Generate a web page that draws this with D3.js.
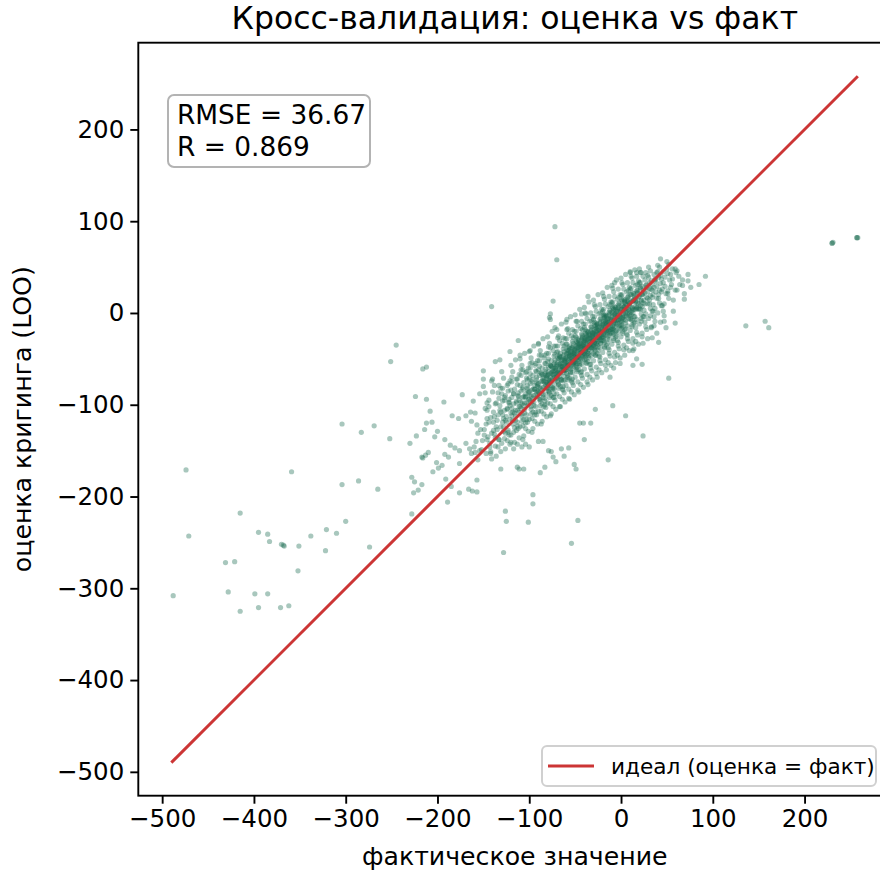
<!DOCTYPE html>
<html><head><meta charset="utf-8">
<script src="https://cdn.jsdelivr.net/npm/d3@7"></script>
<style>body{margin:0;background:#fff}svg{display:block;font-family:"DejaVu Sans",sans-serif}</style>
</head><body><svg id="c" width="880" height="878"></svg>
<script>
const title = "Кросс-валидация: оценка vs факт";
const xLabel = "фактическое значение";
const yLabel = "оценка кригинга (LOO)";
const tickValues = [-500,-400,-300,-200,-100,0,100,200];
const statsLines = ["RMSE = 36.67", "R = 0.869"];
const legendLabel = "идеал (оценка = факт)";
const idealRange = [-490, 258];
const axisDomain = [-526, 294.5];

// [факт, оценка] — outlying points
const outliers = [
[-474,-171],[-359,-173],[-304,-187],[-286,-183],[-265,-192],[-415,-218],[-471,-243],[-395,-239],[-385,-241],[-383,-249],
[-370,-252],[-367,-254],[-368,-253],[-351,-254],[-338,-243],[-321,-236],[-310,-240],[-300,-227],[-322,-259],[-274,-255],
[-431,-272],[-421,-271],[-352,-281],[-488,-308],[-428,-304],[-399,-306],[-385,-306],[-415,-325],[-395,-321],[-371,-321],[-362,-319],
[-224,-91],[-212,-94],[-208,-107],[-212,-120],[-214,-127],[-223,-134],[-230,-142],[-203,-135],[-200,-129],[-252,-137],
[-283,-130],[-269,-123],[-304,-121],[-210,-152],[-216,-158],[-217,-157],[-205,-173],[-199,-169],[-228,-179],[-225,-184],
[-217,-187],[-221,-193],[-226,-196],[-228,-219],[-245,-35],[-251,-53],[-216,-61],[-212,-59],[-193,-97],[-173,-89],
[-184,-112],[-177,-115],[-169,-112],[-159,-109],[-206,-119],[-192,-138],[-186,-144],[-181,-147],[-176,-150],[-192,-154],
[-188,-157],[-169,-142],[-165,-148],[-163,-153],[-154,-150],[-213,-155],[-201,-163],[-195,-166],[-176,-164],[-156,-160],
[-191,-181],[-185,-189],[-189,-206],[-176,-196],[-166,-192],[-162,-194],[-157,-195],[-157,-182],[-126,-216],[-125,-227],
[-128,-261],[-131,-170],[-113,-168],[-111,-170],[-106,-170],[-88,-174],[-83,-168],[-96,-198],[-96,-208],[-101,-228],
[-54,-251],[-47,-226],[-51,-165],[-49,-170],[-14,-160],[24,-134],[5,-112],[-9,-101],[-28,-105],[-40,-138],[-33,-120],
[-45,-120],[-41,-120],[-57,-147],[-65,-148],[-62,-156],[-71,-162],[-74,-157],[-79,-150],[-76,-151],[-85,-140],[-90,-140],
[-100,-146],[-108,-146],[-113,-143],[-104,-143],[-120,-141],[-142,-151],[-146,-138],
[-72,94],[-70,58],[-141,7],[-74,13],[-77,-1],[-77,-7],[-78,-5],[-72,-16],[-36,18],[-43,-1],[-59,-7],[-112,-30],[-90,-33],
[-121,-42],[-99,-41],[-110,-46],[-137,-53],[-132,-51],[-150,-63],
[43,59],[50,56],[59,48],[67,36],[73,35],[92,40],[85,31],[69,21],[61,25],[10,44],[17,44],[-7,33],[24,40],[41,-32],[47,-9],
[36,-14],[52,-71],[13,-41],[17,-50],[23,-56],[13,-57],[-1,-55],[-8,-60],[-12,-70],
[230,76],[230,76],[231,77],[257,82],[257,82],[258,82],[136,-14],[157,-9],[161,-16]
];

// [факт, оценка] — dense core along the diagonal
const cluster = [
[-163,-118],[-158,-140],[-161,-96],[-156,-131],[-159,-152],[-164,-108],[-157,-122],[-160,-146],
[-153,-127],[-148,-104],[-151,-139],[-146,-115],[-154,-88],[-149,-133],[-147,-121],[-152,-149],[-150,-72],[-146,-98],
[-144,-119],[-139,-108],[-141,-131],[-137,-99],[-143,-142],[-136,-124],[-140,-86],[-138,-113],[-142,-153],[-135,-117],[-144,-102],[-139,-128],[-137,-136],[-141,-74],
[-134,-111],[-129,-96],[-131,-124],[-127,-106],[-133,-138],[-126,-117],[-130,-88],[-128,-129],[-132,-101],[-125,-113],[-134,-146],[-129,-119],[-127,-92],[-131,-108],[-126,-131],[-133,-79],[-128,-115],[-130,-142],
[-124,-104],[-119,-92],[-121,-116],[-117,-99],[-123,-128],[-116,-109],[-120,-84],[-118,-121],[-122,-97],[-115,-106],[-124,-139],[-119,-112],[-117,-88],[-121,-101],[-116,-125],[-123,-77],[-118,-108],[-120,-133],[-122,-94],[-115,-117],[-119,-70],[-117,-148],
[-114,-96],[-109,-85],[-111,-108],[-107,-92],[-113,-119],[-106,-101],[-110,-79],[-108,-113],[-112,-90],[-105,-98],[-114,-128],[-109,-104],[-107,-83],[-111,-95],[-106,-116],[-113,-72],[-108,-99],[-110,-124],[-112,-87],[-105,-109],[-109,-62],[-107,-138],[-111,-102],[-106,-91],[-113,-106],[-108,-118],
[-104,-88],[-99,-77],[-101,-100],[-97,-84],[-103,-111],[-96,-93],[-100,-71],[-98,-105],[-102,-82],[-95,-90],[-104,-120],[-99,-96],[-97,-75],[-101,-87],[-96,-108],[-103,-64],[-98,-91],[-100,-116],[-102,-79],[-95,-101],[-99,-55],[-97,-130],[-101,-94],[-96,-83],[-103,-98],[-98,-110],[-104,-92],[-100,-86],[-97,-97],[-102,-73],
[-94,-79],[-89,-68],[-91,-91],[-87,-75],[-93,-102],[-86,-84],[-90,-62],[-88,-96],[-92,-73],[-85,-81],[-94,-111],[-89,-87],[-87,-66],[-91,-78],[-86,-99],[-93,-55],[-88,-82],[-90,-107],[-92,-70],[-85,-92],[-89,-46],[-87,-121],[-91,-85],[-86,-74],[-93,-89],[-88,-101],[-94,-83],[-90,-77],[-87,-88],[-92,-64],[-85,-71],[-89,-94],[-91,-80],[-86,-67],
[-84,-70],[-79,-59],[-81,-82],[-77,-66],[-83,-93],[-76,-75],[-80,-53],[-78,-87],[-82,-64],[-75,-72],[-84,-102],[-79,-78],[-77,-57],[-81,-69],[-76,-90],[-83,-46],[-78,-73],[-80,-98],[-82,-61],[-75,-83],[-79,-37],[-77,-112],[-81,-76],[-76,-65],[-83,-80],[-78,-92],[-84,-74],[-80,-68],[-77,-79],[-82,-55],[-75,-62],[-79,-85],[-81,-71],[-76,-58],[-83,-66],[-78,-76],[-80,-81],[-82,-88],[-77,-70],[-79,-64],
[-74,-60],[-69,-49],[-71,-72],[-67,-56],[-73,-83],[-66,-65],[-70,-43],[-68,-77],[-72,-54],[-65,-62],[-74,-92],[-69,-68],[-67,-47],[-71,-59],[-66,-80],[-73,-36],[-68,-63],[-70,-88],[-72,-51],[-65,-73],[-69,-27],[-67,-102],[-71,-66],[-66,-55],[-73,-70],[-68,-82],[-74,-64],[-70,-58],[-67,-69],[-72,-45],[-65,-52],[-69,-75],[-71,-61],[-66,-48],[-73,-56],[-68,-66],[-70,-71],[-72,-78],[-67,-60],[-69,-54],[-74,-67],[-66,-58],[-71,-63],[-68,-50],
[-64,-51],[-59,-40],[-61,-63],[-57,-47],[-63,-74],[-56,-56],[-60,-34],[-58,-68],[-62,-45],[-55,-53],[-64,-83],[-59,-59],[-57,-38],[-61,-50],[-56,-71],[-63,-27],[-58,-54],[-60,-79],[-62,-42],[-55,-64],[-59,-18],[-57,-93],[-61,-57],[-56,-46],[-63,-61],[-58,-73],[-64,-55],[-60,-49],[-57,-60],[-62,-36],[-55,-43],[-59,-66],[-61,-52],[-56,-39],[-63,-47],[-58,-57],[-60,-62],[-62,-69],[-57,-51],[-59,-45],[-64,-58],[-56,-49],[-61,-54],[-58,-41],[-63,-65],[-55,-58],[-60,-55],[-57,-44],[-62,-60],[-59,-50],
[-54,-42],[-49,-31],[-51,-54],[-47,-38],[-53,-65],[-46,-47],[-50,-25],[-48,-59],[-52,-36],[-45,-44],[-54,-74],[-49,-50],[-47,-29],[-51,-41],[-46,-62],[-53,-18],[-48,-45],[-50,-70],[-52,-33],[-45,-55],[-49,-9],[-47,-84],[-51,-48],[-46,-37],[-53,-52],[-48,-64],[-54,-46],[-50,-40],[-47,-51],[-52,-27],[-45,-34],[-49,-57],[-51,-43],[-46,-30],[-53,-38],[-48,-48],[-50,-53],[-52,-60],[-47,-42],[-49,-36],[-54,-49],[-46,-40],[-51,-45],[-48,-32],[-53,-56],[-45,-49],[-50,-46],[-47,-35],[-52,-51],[-49,-41],[-46,-53],[-51,-39],[-48,-55],[-53,-44],
[-44,-33],[-39,-22],[-41,-45],[-37,-29],[-43,-56],[-36,-38],[-40,-16],[-38,-50],[-42,-27],[-35,-35],[-44,-65],[-39,-41],[-37,-20],[-41,-32],[-36,-53],[-43,-9],[-38,-36],[-40,-61],[-42,-24],[-35,-46],[-39,0],[-37,-75],[-41,-39],[-36,-28],[-43,-43],[-38,-55],[-44,-37],[-40,-31],[-37,-42],[-42,-18],[-35,-25],[-39,-48],[-41,-34],[-36,-21],[-43,-29],[-38,-39],[-40,-44],[-42,-51],[-37,-33],[-39,-27],[-44,-40],[-36,-31],[-41,-36],[-38,-23],[-43,-47],[-35,-40],[-40,-37],[-37,-26],[-42,-42],[-39,-32],[-36,-44],[-41,-30],[-38,-46],[-43,-35],[-40,-28],[-37,-38],
[-34,-24],[-29,-13],[-31,-36],[-27,-20],[-33,-47],[-26,-29],[-30,-7],[-28,-41],[-32,-18],[-25,-26],[-34,-56],[-29,-32],[-27,-11],[-31,-23],[-26,-44],[-33,0],[-28,-27],[-30,-52],[-32,-15],[-25,-37],[-29,9],[-27,-66],[-31,-30],[-26,-19],[-33,-34],[-28,-46],[-34,-28],[-30,-22],[-27,-33],[-32,-9],[-25,-16],[-29,-39],[-31,-25],[-26,-12],[-33,-20],[-28,-30],[-30,-35],[-32,-42],[-27,-24],[-29,-18],[-34,-31],[-26,-22],[-31,-27],[-28,-14],[-33,-38],[-25,-31],[-30,-28],[-27,-17],[-32,-33],[-29,-23],[-26,-35],[-31,-21],[-28,-37],[-33,-26],
[-24,-15],[-19,-4],[-21,-27],[-17,-11],[-23,-38],[-16,-20],[-20,2],[-18,-32],[-22,-9],[-15,-17],[-24,-47],[-19,-23],[-17,-2],[-21,-14],[-16,-35],[-23,9],[-18,-18],[-20,-43],[-22,-6],[-15,-28],[-19,18],[-17,-57],[-21,-21],[-16,-10],[-23,-25],[-18,-37],[-24,-19],[-20,-13],[-17,-24],[-22,0],[-15,-7],[-19,-30],[-21,-16],[-16,-3],[-23,-11],[-18,-21],[-20,-26],[-22,-33],[-17,-15],[-19,-9],[-24,-22],[-16,-13],[-21,-18],[-18,-5],[-23,-29],[-15,-22],[-20,-19],[-17,-8],[-22,-24],[-19,-14],
[-14,-6],[-9,5],[-11,-18],[-7,-2],[-13,-29],[-6,-11],[-10,11],[-8,-23],[-12,0],[-5,-8],[-14,-38],[-9,-14],[-7,7],[-11,-5],[-6,-26],[-13,18],[-8,-9],[-10,-34],[-12,3],[-5,-19],[-9,27],[-7,-48],[-11,-12],[-6,-1],[-13,-16],[-8,-28],[-14,-10],[-10,-4],[-7,-15],[-12,9],[-5,2],[-9,-21],[-11,-7],[-6,6],[-13,-2],[-8,-12],[-10,-17],[-12,-24],[-7,-6],[-9,0],[-14,-13],[-6,-4],[-11,-9],[-8,4],[-13,-20],[-5,-13],
[-4,2],[1,13],[-1,-10],[3,6],[-3,-21],[4,-3],[0,19],[2,-15],[-2,8],[5,0],[-4,-30],[1,-6],[3,15],[-1,3],[4,-18],[-3,26],[2,-1],[0,-26],[-2,11],[5,-11],[1,33],[3,-40],[-1,-4],[4,7],[-3,-8],[2,-20],[-4,-2],[0,4],[3,-7],[-2,17],[5,10],[1,-13],[-1,1],[4,14],[-3,6],[2,-4],[0,-9],[-2,-16],[3,2],[1,8],[-4,-5],[4,4],
[6,9],[11,20],[9,-3],[13,13],[7,-14],[14,4],[10,26],[12,-8],[8,15],[15,7],[6,-23],[11,1],[13,22],[9,10],[14,-11],[7,33],[12,6],[10,-19],[8,18],[15,-4],[11,40],[13,-33],[9,3],[14,14],[7,-1],[12,-13],[6,5],[10,11],[13,0],[8,24],[15,17],[11,-6],[9,8],[14,21],[7,13],[12,3],
[16,16],[21,27],[19,4],[23,20],[17,-7],[24,11],[20,33],[22,-1],[18,22],[25,14],[16,-16],[21,8],[23,29],[19,17],[24,-4],[17,40],[22,13],[20,-12],[18,25],[25,3],[21,44],[23,-26],[19,10],[24,21],[17,6],[22,-6],[16,12],[20,18],[23,7],[18,31],
[26,22],[31,33],[29,10],[33,26],[27,-1],[34,17],[30,39],[32,5],[28,28],[35,20],[26,-10],[31,14],[33,35],[29,23],[34,2],[27,44],[32,19],[30,-6],[28,31],[35,9],[31,27],[33,-15],[29,16],[34,25],
[36,28],[41,39],[39,16],[43,32],[37,5],[44,23],[40,45],[42,11],[38,34],[45,26],[36,-4],[41,20],[43,41],[39,29],[44,8],[37,37],[42,25],[40,0],
[46,33],[51,43],[49,21],[53,36],[47,10],[54,28],[50,48],[52,16],[48,39],[55,31],[46,2],[51,24],
[56,37],[61,46],[59,25],[63,40],[57,14],[64,31],[60,44],
[67,30],[73,42],[69,15],[76,28]
];

// [факт, оценка] — wider halo of the cloud
const clusterWide = [
[-148,-87],[-143,-146],[-146,-106],[-141,-159],[-149,-127],[-144,-95],[-147,-153],[-142,-114],[-145,-135],[-150,-80],
[-138,-79],[-133,-138],[-136,-98],[-131,-151],[-139,-119],[-134,-87],[-137,-145],[-132,-106],[-135,-127],[-140,-72],[-133,-93],[-138,-132],[-131,-82],[-136,-156],
[-128,-71],[-123,-130],[-126,-90],[-121,-143],[-129,-111],[-124,-79],[-127,-137],[-122,-98],[-125,-119],[-130,-64],[-123,-85],[-128,-124],[-121,-74],[-126,-148],[-124,-105],[-129,-82],[-122,-133],[-127,-95],
[-118,-64],[-113,-123],[-116,-83],[-111,-136],[-119,-104],[-114,-72],[-117,-130],[-112,-91],[-115,-112],[-120,-57],[-113,-78],[-118,-117],[-111,-67],[-116,-141],[-114,-98],[-119,-75],[-112,-126],[-117,-88],[-115,-51],[-120,-109],
[-108,-57],[-103,-116],[-106,-76],[-101,-129],[-109,-97],[-104,-65],[-107,-123],[-102,-84],[-105,-105],[-110,-50],[-103,-71],[-108,-110],[-101,-60],[-106,-134],[-104,-91],[-109,-68],[-102,-119],[-107,-81],[-105,-44],[-110,-102],[-104,-126],[-107,-62],
[-98,-49],[-93,-108],[-96,-68],[-91,-121],[-99,-89],[-94,-57],[-97,-115],[-92,-76],[-95,-97],[-100,-42],[-93,-63],[-98,-102],[-91,-52],[-96,-126],[-94,-83],[-99,-60],[-92,-111],[-97,-73],[-95,-36],[-100,-94],[-94,-118],[-97,-54],[-92,-86],[-99,-66],
[-88,-41],[-83,-100],[-86,-60],[-81,-113],[-89,-81],[-84,-49],[-87,-107],[-82,-68],[-85,-89],[-90,-34],[-83,-55],[-88,-94],[-81,-44],[-86,-118],[-84,-75],[-89,-52],[-82,-103],[-87,-65],[-85,-28],[-90,-86],[-84,-110],[-87,-46],[-82,-78],[-89,-58],[-83,-96],
[-78,-33],[-73,-92],[-76,-52],[-71,-105],[-79,-73],[-74,-41],[-77,-99],[-72,-60],[-75,-81],[-80,-26],[-73,-47],[-78,-86],[-71,-36],[-76,-110],[-74,-67],[-79,-44],[-72,-95],[-77,-57],[-75,-20],[-80,-78],[-74,-102],[-77,-38],[-72,-70],[-79,-50],[-73,-88],
[-68,-25],[-63,-84],[-66,-44],[-61,-97],[-69,-65],[-64,-33],[-67,-91],[-62,-52],[-65,-73],[-70,-18],[-63,-39],[-68,-78],[-61,-28],[-66,-102],[-64,-59],[-69,-36],[-62,-87],[-67,-49],[-65,-12],[-70,-70],[-64,-94],[-67,-30],[-62,-62],[-69,-42],[-63,-80],
[-58,-17],[-53,-76],[-56,-36],[-51,-89],[-59,-57],[-54,-25],[-57,-83],[-52,-44],[-55,-65],[-60,-10],[-53,-31],[-58,-70],[-51,-20],[-56,-94],[-54,-51],[-59,-28],[-52,-79],[-57,-41],[-55,-4],[-60,-62],[-54,-86],[-57,-22],[-52,-54],[-59,-34],[-53,-72],
[-48,-9],[-43,-68],[-46,-28],[-41,-81],[-49,-49],[-44,-17],[-47,-75],[-42,-36],[-45,-57],[-50,-2],[-43,-23],[-48,-62],[-41,-12],[-46,-86],[-44,-43],[-49,-20],[-42,-71],[-47,-33],[-45,4],[-50,-54],[-44,-78],[-47,-14],[-42,-46],[-49,-26],[-43,-64],
[-38,-1],[-33,-60],[-36,-20],[-31,-73],[-39,-41],[-34,-9],[-37,-67],[-32,-28],[-35,-49],[-40,6],[-33,-15],[-38,-54],[-31,-4],[-36,-78],[-34,-35],[-39,-12],[-32,-63],[-37,-25],[-35,12],[-40,-46],[-34,-70],[-37,-6],[-32,-38],[-39,-18],[-33,-56],
[-28,7],[-23,-52],[-26,-12],[-21,-65],[-29,-33],[-24,-1],[-27,-59],[-22,-20],[-25,-41],[-30,14],[-23,-7],[-28,-46],[-21,4],[-26,-70],[-24,-27],[-29,-4],[-22,-55],[-27,-17],[-25,20],[-30,-38],[-24,-62],[-27,2],[-22,-30],[-29,-10],[-23,-48],
[-18,15],[-13,-44],[-16,-4],[-11,-57],[-19,-25],[-14,7],[-17,-51],[-12,-12],[-15,-33],[-20,22],[-13,1],[-18,-38],[-11,12],[-16,-62],[-14,-19],[-19,4],[-12,-47],[-17,-9],[-15,28],[-20,-30],[-14,-54],[-17,10],[-12,-22],[-19,-2],[-13,-40],
[-8,23],[-3,-36],[-6,4],[-1,-49],[-9,-17],[-4,15],[-7,-43],[-2,-4],[-5,-25],[-10,30],[-3,9],[-8,-30],[-1,20],[-6,-54],[-4,-11],[-9,12],[-2,-39],[-7,-1],[-5,36],[-10,-22],[-4,-46],[-7,18],[-2,-14],[-9,6],[-3,-32],
[2,31],[7,-28],[4,12],[9,-41],[1,-9],[6,23],[3,-35],[8,4],[5,-17],[0,38],[7,17],[2,-22],[9,28],[4,-46],[6,-3],[1,20],[8,-31],[3,7],[5,42],[0,-14],[6,-38],[3,26],[8,-6],[1,14],[7,-24],
[12,38],[17,-21],[14,19],[19,-34],[11,-2],[16,30],[13,-28],[18,11],[15,-10],[10,45],[17,24],[12,-15],[19,35],[14,-39],[16,4],[11,27],[18,-24],[13,14],[15,47],[10,-7],[16,-31],[13,33],
[22,44],[27,-15],[24,25],[29,-28],[21,4],[26,36],[23,-22],[28,17],[25,-4],[20,48],[27,30],[22,-9],[29,41],[24,-33],[26,10],[21,33],[28,-18],[23,20],
[32,46],[37,-9],[34,31],[39,-22],[31,10],[36,42],[33,-16],[38,23],[35,2],[30,50],[37,36],[32,-3],[39,44],[34,-27],
[42,50],[47,-3],[44,37],[49,-16],[41,16],[46,45],[43,-10],[48,29],[45,8],[40,52],
[52,53],[57,2],[54,42],[59,-11],[51,21],[56,48]
];

// [факт, оценка] — densest ridge near the diagonal
const clusterCore = [
[-82,-75],[-80,-82],[-79,-67],[-77,-74],[-76,-58],[-74,-82],[-73,-63],[-72,-73],[-70,-56],[-69,-65],[-67,-47],[-66,-72],[-65,-58],
[-63,-63],[-62,-50],[-61,-73],[-59,-44],[-58,-56],[-56,-47],[-55,-61],[-54,-38],[-52,-55],[-51,-47],[-50,-59],[-48,-38],[-47,-48],
[-46,-34],[-44,-50],[-43,-38],[-42,-26],[-40,-51],[-39,-38],[-38,-30],[-36,-44],[-35,-23],[-34,-37],[-32,-31],[-31,-22],[-30,-44],
[-28,-23],[-27,-33],[-26,-14],[-24,-27],[-23,-21],[-22,-33],[-20,-12],[-19,-27],[-18,-3],[-16,-19],[-15,-12],[-14,-25],[-12,-7],
[-11,-18],[-10,1],[-8,-18],[-7,-8],[-6,-20],[-4,4],[-3,-7],[-2,-2],[0,-17],[1,4],[2,-5],[4,12],[5,-8],[6,2],[8,12],[9,-1],
[10,20],[12,5],[13,13],[14,-4],[16,13],[17,5],[18,22],[20,5],[21,28],[22,14]
];

const W = 880, H = 878;
const plot = {left: 138.3, top: 42.7, size: 753};
const svg = d3.select("#c");
const x = d3.scaleLinear().domain(axisDomain).range([plot.left, plot.left + plot.size]);
const y = d3.scaleLinear().domain(axisDomain).range([plot.top + plot.size, plot.top]);
const fmt = d => (d < 0 ? "\u2212" + Math.abs(d) : String(d));

svg.append("defs").append("clipPath").attr("id","clip")
  .append("rect").attr("x", plot.left).attr("y", plot.top).attr("width", plot.size).attr("height", plot.size);

const g = svg.append("g").attr("clip-path","url(#clip)");
const pts = cluster.concat(clusterWide, clusterCore, outliers);
g.selectAll("circle").data(pts).join("circle")
  .attr("cx", d => x(d[0])).attr("cy", d => y(d[1])).attr("r", 2.6)
  .attr("fill", "#1f6e55").attr("fill-opacity", 0.39);

g.append("line")
  .attr("x1", x(idealRange[0])).attr("y1", y(idealRange[0]))
  .attr("x2", x(idealRange[1])).attr("y2", y(idealRange[1]))
  .attr("stroke", "#cc3535").attr("stroke-width", 3);

// axes
const xAxis = svg.append("g").attr("transform", `translate(0,${plot.top + plot.size})`)
  .call(d3.axisBottom(x).tickValues(tickValues).tickFormat(fmt).tickSize(8).tickPadding(6));
const yAxis = svg.append("g").attr("transform", `translate(${plot.left},0)`)
  .call(d3.axisLeft(y).tickValues(tickValues).tickFormat(fmt).tickSize(8).tickPadding(6));
[xAxis, yAxis].forEach(a => {
  a.select(".domain").remove();
  a.selectAll(".tick line").attr("stroke", "#000").attr("stroke-width", 1.9);
  a.selectAll(".tick text").attr("fill", "#000").attr("font-size", 24.5).attr("font-family", '"DejaVu Sans", sans-serif');
});
xAxis.selectAll(".tick text").attr("dy", "0.71em");
svg.append("rect").attr("x", plot.left).attr("y", plot.top).attr("width", plot.size).attr("height", plot.size)
  .attr("fill", "none").attr("stroke", "#000").attr("stroke-width", 1.9);

// title and labels
svg.append("text").attr("x", plot.left + plot.size/2).attr("y", 29).attr("text-anchor","middle")
  .attr("font-size", 31.5).attr("fill","#000").text(title);
svg.append("text").attr("x", plot.left + plot.size/2).attr("y", 865).attr("text-anchor","middle")
  .attr("font-size", 25.2).attr("fill","#000").text(xLabel);
svg.append("text").attr("transform", `translate(31,${plot.top + plot.size/2}) rotate(-90)`).attr("text-anchor","middle")
  .attr("font-size", 25.2).attr("fill","#000").text(yLabel);

// stats box
const sb = svg.append("g");
sb.append("rect").attr("x", 168).attr("y", 95).attr("width", 202).attr("height", 72).attr("rx", 6)
  .attr("fill", "#fff").attr("fill-opacity", 0.85).attr("stroke", "#b3b3b3").attr("stroke-width", 2);
sb.selectAll("text").data(statsLines).join("text")
  .attr("x", 177).attr("y", (d, i) => 124 + i * 32).attr("font-size", 26.4).attr("fill", "#000").text(d => d);

// legend
const lg = svg.append("g");
lg.append("rect").attr("x", 542).attr("y", 746).attr("width", 334).attr("height", 40).attr("rx", 5)
  .attr("fill", "#fff").attr("fill-opacity", 0.85).attr("stroke", "#d0d0d0").attr("stroke-width", 2);
lg.append("line").attr("x1", 548).attr("x2", 594).attr("y1", 766).attr("y2", 766)
  .attr("stroke", "#cc3535").attr("stroke-width", 3);
lg.append("text").attr("x", 611).attr("y", 774).attr("font-size", 21.6).attr("fill", "#000").text(legendLabel);
</script></body></html>
